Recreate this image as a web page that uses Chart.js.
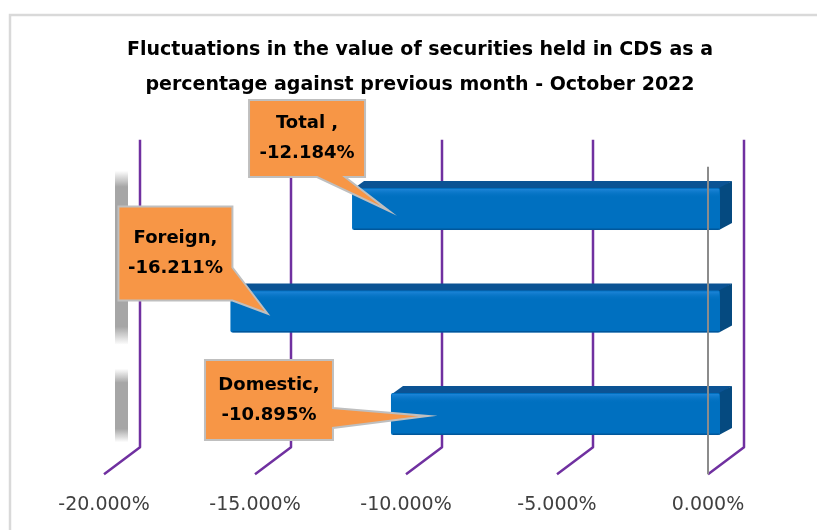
<!DOCTYPE html>
<html><head><meta charset="utf-8">
<script src="https://cdn.jsdelivr.net/npm/chart.js@4/dist/chart.umd.min.js"></script>
<style>html,body{margin:0;padding:0;background:#fff;overflow:hidden;width:817px;height:530px}canvas{display:block}</style>
</head><body>
<canvas id="c" width="840" height="530"></canvas>
<script>
// ---- data ----
const categories = ['Total', 'Foreign', 'Domestic'];
const values = [-12.184, -16.211, -10.895];
const calloutNames = ['Total ,', 'Foreign,', 'Domestic,'];
const tickValues = [-20, -15, -10, -5, 0];
const tickLabels = ['-20.000%', '-15.000%', '-10.000%', '-5.000%', '0.000%'];
const titleLines = ['Fluctuations in the value of securities held in CDS as a',
                    'percentage against previous month - October 2022'];

// ---- styles / layout of decorations ----
const BAR_SHIFT = {dx: 12, dy: -9};   // bar plane offset from the front plane
const BAR_DEPTH = {dx: 12, dy: -7};   // bar thickness in depth
const BACK = {dx: 36, dy: -27};       // back wall offset
const callouts = [
  {tip: [140, 111], w: 116, h: 77, tail: 'bottom', a: 68, b: 96},
  {tip: [149, 107], w: 114, h: 94, tail: 'right', a: 61, b: 94},
  {tip: [223, 56],  w: 128, h: 80, tail: 'right', a: 48, b: 68}
];

const deco = {
  id: 'deco3d',
  beforeDraw(chart) {
    const ctx = chart.ctx;
    ctx.save();
    ctx.strokeStyle = '#d9d9d9';
    ctx.lineWidth = 2.5;
    ctx.strokeRect(10, 15, 900, 600);
    ctx.restore();
  },
  beforeDatasetsDraw(chart) {
    const ctx = chart.ctx, ca = chart.chartArea, xs = chart.scales.x;
    ctx.save();
    // side wall shading
    const wx = ca.left + 11, wy0 = ca.top + 4, wy1 = ca.bottom - 32;
    const g = ctx.createLinearGradient(0, wy0, 0, wy1);
    const H = wy1 - wy0;
    const st = (y, c) => g.addColorStop(Math.min(1, Math.max(0, (y - wy0) / H)), c);
    st(wy0, 'rgba(166,166,166,0)');
    st(ca.top + 20, 'rgba(166,166,166,1)');
    st(ca.top + 160, 'rgba(166,166,166,1)');
    st(ca.top + 178, 'rgba(166,166,166,0)');
    st(ca.top + 202, 'rgba(166,166,166,0)');
    st(ca.top + 216, 'rgba(166,166,166,1)');
    st(ca.top + 262, 'rgba(166,166,166,1)');
    st(wy1, 'rgba(166,166,166,0)');
    ctx.fillStyle = g;
    ctx.fillRect(wx, wy0, 13, H);
    // 3D gridlines
    ctx.strokeStyle = '#7030a0';
    ctx.lineWidth = 2.5;
    ctx.lineJoin = 'round';
    tickValues.forEach(v => {
      const x = xs.getPixelForValue(v);
      ctx.beginPath();
      ctx.moveTo(x, ca.bottom);
      ctx.lineTo(x + BACK.dx, ca.bottom + BACK.dy);
      ctx.lineTo(x + BACK.dx, ca.top + BACK.dy);
      ctx.stroke();
    });
    // bar top faces and end caps
    const meta = chart.getDatasetMeta(0);
    meta.data.forEach(el => {
      const l = Math.min(el.x, el.base) + BAR_SHIFT.dx;
      const r = Math.max(el.x, el.base) + BAR_SHIFT.dx;
      const t = el.y + BAR_SHIFT.dy - el.height / 2;
      const b = t + el.height;
      ctx.fillStyle = '#0b5394';
      ctx.beginPath();
      ctx.moveTo(l + 1, t + 1);
      ctx.lineTo(l + BAR_DEPTH.dx, t + BAR_DEPTH.dy);
      ctx.lineTo(r + BAR_DEPTH.dx, t + BAR_DEPTH.dy);
      ctx.lineTo(r, t + 1);
      ctx.closePath();
      ctx.fill();
      ctx.fillStyle = '#054a80';
      ctx.beginPath();
      ctx.moveTo(r - 1, t);
      ctx.lineTo(r + BAR_DEPTH.dx, t + BAR_DEPTH.dy);
      ctx.lineTo(r + BAR_DEPTH.dx, b + BAR_DEPTH.dy);
      ctx.lineTo(r - 1, b);
      ctx.closePath();
      ctx.fill();
    });
    ctx.restore();
    ctx.save();
    ctx.translate(BAR_SHIFT.dx, BAR_SHIFT.dy);
  },
  afterDatasetsDraw(chart) {
    const ctx = chart.ctx, ca = chart.chartArea, xs = chart.scales.x;
    ctx.restore();
    ctx.save();
    const meta = chart.getDatasetMeta(0);
    // highlight band on front faces
    meta.data.forEach(el => {
      const l = Math.min(el.x, el.base) + BAR_SHIFT.dx;
      const r = Math.max(el.x, el.base) + BAR_SHIFT.dx;
      const t = el.y + BAR_SHIFT.dy - el.height / 2;
      const b = t + el.height;
      const hg = ctx.createLinearGradient(0, t, 0, t + 10);
      hg.addColorStop(0, 'rgba(40,140,225,0.9)');
      hg.addColorStop(1, 'rgba(0,112,192,0)');
      ctx.fillStyle = hg;
      ctx.fillRect(l + 1, t + 1, r - l - 2, 10);
      ctx.fillStyle = 'rgba(0,70,130,0.6)';
      ctx.fillRect(l + 2, b - 1.5, r - l - 3, 1.5);
    });
    // zero axis line (front)
    const x0 = xs.getPixelForValue(0);
    ctx.strokeStyle = '#8c8c8c';
    ctx.lineWidth = 2;
    ctx.beginPath();
    ctx.moveTo(x0, ca.top);
    ctx.lineTo(x0, ca.bottom);
    ctx.stroke();
    // callouts
    meta.data.forEach((el, i) => {
      const c = callouts[i];
      const left = Math.min(el.x, el.base) + BAR_SHIFT.dx;
      const tx = left + 37, ty = el.y + BAR_SHIFT.dy + 2;
      const L = tx - c.tip[0], T = ty - c.tip[1], R = L + c.w, B = T + c.h;
      ctx.beginPath();
      ctx.moveTo(L, T);
      ctx.lineTo(R, T);
      if (c.tail === 'right') {
        ctx.lineTo(R, T + c.a);
        ctx.lineTo(tx, ty);
        ctx.lineTo(R, T + c.b);
        ctx.lineTo(R, B);
        ctx.lineTo(L, B);
      } else {
        ctx.lineTo(R, B);
        ctx.lineTo(L + c.b, B);
        ctx.lineTo(tx, ty);
        ctx.lineTo(L + c.a, B);
        ctx.lineTo(L, B);
      }
      ctx.closePath();
      ctx.fillStyle = '#f79646';
      ctx.fill();
      ctx.strokeStyle = '#bfbfbf';
      ctx.lineWidth = 2;
      ctx.lineJoin = 'miter';
      ctx.stroke();
      ctx.fillStyle = '#000';
      ctx.font = 'bold 18px "DejaVu Sans"';
      ctx.textAlign = 'center';
      ctx.textBaseline = 'middle';
      const cx = (L + R) / 2, cy = (T + B) / 2;
      ctx.fillText(calloutNames[i], cx, cy - 15);
      ctx.fillText(values[i].toFixed(3) + '%', cx, cy + 15);
    });
    ctx.restore();
  }
};

new Chart(document.getElementById('c'), {
  type: 'bar',
  data: {
    labels: categories,
    datasets: [{
      data: values,
      backgroundColor: '#0070c0',
      borderWidth: 0,
      borderRadius: 2,
      borderSkipped: false,
      barPercentage: 0.41,
      categoryPercentage: 1.0
    }]
  },
  options: {
    responsive: false,
    animation: false,
    indexAxis: 'y',
    layout: {padding: {left: 0, right: 0, top: 0, bottom: 13.5}},
    plugins: {
      legend: {display: false},
      tooltip: {enabled: false},
      title: {
        display: true,
        text: titleLines,
        color: '#000',
        font: {family: 'DejaVu Sans', size: 19, weight: 'bold', lineHeight: 1.842},
        padding: {top: 32.5, bottom: 64.25}
      }
    },
    scales: {
      x: {
        type: 'linear', min: -20, max: 0, position: 'bottom',
        afterBuildTicks: s => { s.ticks = tickValues.map(v => ({value: v})); },
        afterFit: s => { s.height = 42.25; },
        ticks: {
          padding: 19, color: '#404040', autoSkip: false, maxRotation: 0,
          font: {family: 'DejaVu Sans', size: 19},
          callback: (v) => tickLabels[tickValues.indexOf(v)]
        },
        grid: {display: false, drawTicks: false},
        border: {display: false}
      },
      y: {
        type: 'category', position: 'left',
        grid: {display: false, drawTicks: false},
        border: {display: false},
        ticks: {display: false},
        afterFit: s => { s.width = 104; }
      },
      y2: {
        type: 'category', position: 'right', labels: categories,
        grid: {display: false, drawTicks: false},
        border: {display: false},
        ticks: {display: false},
        afterFit: s => { s.width = 132; }
      }
    }
  },
  plugins: [deco]
});
</script>
</body></html>
